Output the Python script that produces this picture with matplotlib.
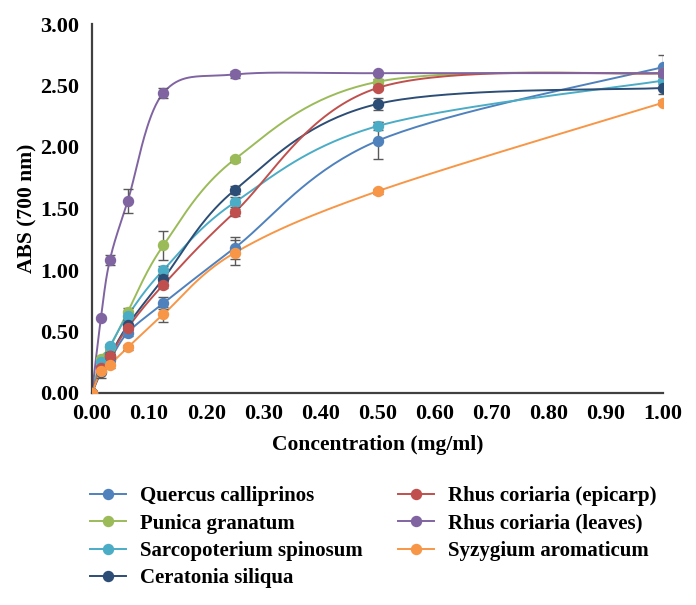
import numpy as np
import matplotlib
matplotlib.use("Agg")
import matplotlib.pyplot as plt
from matplotlib.lines import Line2D

plt.rcParams['font.family'] = ['Liberation Serif', 'DejaVu Serif']
plt.rcParams['font.weight'] = 'bold'

conc = [0, 0.015625, 0.03125, 0.0625, 0.125, 0.25, 0.5, 1.0]

names = ["Quercus calliprinos", "Punica granatum", "Sarcopoterium spinosum",
         "Ceratonia siliqua", "Rhus coriaria (epicarp)", "Rhus coriaria (leaves)",
         "Syzygium aromaticum"]

quercus = [0, 0.20, 0.27, 0.49, 0.73, 1.18, 2.05, 2.65]
punica = [0, 0.28, 0.37, 0.66, 1.20, 1.90, 2.53, 2.60]
sarco = [0, 0.25, 0.38, 0.63, 1.00, 1.55, 2.17, 2.54]
ceratonia = [0, 0.17, 0.30, 0.55, 0.93, 1.65, 2.35, 2.48]
rhus_epi = [0, 0.20, 0.30, 0.53, 0.88, 1.47, 2.48, 2.60]
rhus_leaves = [0, 0.61, 1.08, 1.56, 2.44, 2.59, 2.60, 2.60]
syzygium = [0, 0.18, 0.23, 0.37, 0.64, 1.14, 1.64, 2.36]

err_quercus = [0, 0.02, 0.02, 0.03, 0.05, 0.09, 0.15, 0.10]
err_punica = [0, 0.02, 0.02, 0.03, 0.12, 0.02, 0.02, 0.02]
err_sarco = [0, 0.02, 0.02, 0.03, 0.03, 0.04, 0.03, 0.03]
err_ceratonia = [0, 0.05, 0.03, 0.04, 0.03, 0.03, 0.05, 0.05]
err_rhus_epi = [0, 0.02, 0.02, 0.02, 0.03, 0.03, 0.02, 0.02]
err_rhus_leaves = [0, 0.01, 0.04, 0.10, 0.04, 0.03, 0.01, 0.01]
err_syzygium = [0, 0.02, 0.03, 0.02, 0.06, 0.10, 0.02, 0.02]

series = [quercus, punica, sarco, ceratonia, rhus_epi, rhus_leaves, syzygium]
errors = [err_quercus, err_punica, err_sarco, err_ceratonia, err_rhus_epi,
          err_rhus_leaves, err_syzygium]
colors = ["#4F81BD", "#9BBB59", "#4BACC6", "#2C4D75", "#C0504D", "#8064A2", "#F79646"]

x_ticks = [0.0, 0.1, 0.2, 0.3, 0.4, 0.5, 0.6, 0.7, 0.8, 0.9, 1.0]
y_ticks = [0.0, 0.5, 1.0, 1.5, 2.0, 2.5, 3.0]


def smooth(xs, ys, n=40):
    xs = np.asarray(xs, float)
    ys = np.asarray(ys, float)
    P = np.column_stack([xs, ys])
    out = []
    m = len(P)
    for i in range(m - 1):
        p0 = P[i]
        p3 = P[i + 1]
        pm = P[i - 1] if i > 0 else P[i]
        pp = P[i + 2] if i + 2 < m else P[i + 1]
        c1 = p0 + (p3 - pm) / 6.0
        c2 = p3 - (pp - p0) / 6.0
        t = np.linspace(0, 1, n)[:, None]
        seg = ((1 - t) ** 3) * p0 + 3 * ((1 - t) ** 2) * t * c1 + 3 * (1 - t) * t ** 2 * c2 + t ** 3 * p3
        out.append(seg if i == 0 else seg[1:])
    c = np.vstack(out)
    return c[:, 0], c[:, 1]


fig = plt.figure(figsize=(6.96, 6.05), dpi=100)
ax = fig.add_axes([92 / 696, 1 - 393 / 605, (663 - 92) / 696, (393 - 24) / 605])

for ys, es, col in zip(series, errors, colors):
    sx, sy = smooth(conc, ys)
    ax.plot(sx, sy, color=col, lw=1.4, zorder=2)
    ax.errorbar(conc, ys, yerr=es, fmt='none', ecolor='#595959', elinewidth=1.0,
                capsize=3.5, capthick=1.0, zorder=3)
    ax.plot(conc, ys, 'o', color=col, ms=7.2, zorder=4)

ax.set_xlim(0, 1.0)
ax.set_ylim(0, 3.0)
ax.set_xticks(x_ticks)
ax.set_yticks(y_ticks)
ax.set_xticklabels([f"{v:.2f}" for v in x_ticks])
ax.set_yticklabels([f"{v:.2f}" for v in y_ticks])
ax.tick_params(axis='both', length=0, labelsize=16, colors='black')
ax.tick_params(axis='x', pad=8)
ax.tick_params(axis='y', pad=9)
for s in ['top', 'right']:
    ax.spines[s].set_visible(False)
for s in ['left', 'bottom']:
    ax.spines[s].set_linewidth(1.6)
    ax.spines[s].set_color('#404040')

fig.text(27 / 696, 1 - 208 / 605, "ABS (700 nm)", rotation=90, ha='center', va='center',
         fontsize=15.5, fontweight='bold')
fig.text(378 / 696, 1 - 445 / 605, "Concentration (mg/ml)", ha='center', va='center',
         fontsize=15.5, fontweight='bold')

handles = [Line2D([0], [0], color=c, lw=1.4, marker='o', ms=7.2) for c in colors]

common = dict(loc='upper left', frameon=False, fontsize=15, handlelength=1.75,
              handletextpad=0.65, labelspacing=0.36, borderaxespad=0, borderpad=0)
leg1 = fig.legend(handles[:4], names[:4], bbox_to_anchor=(90 / 696, 1 - 486 / 605), **common)
leg2 = fig.legend(handles[4:], names[4:], bbox_to_anchor=(398 / 696, 1 - 486 / 605), **common)

fig.savefig("out.png", dpi=100)
